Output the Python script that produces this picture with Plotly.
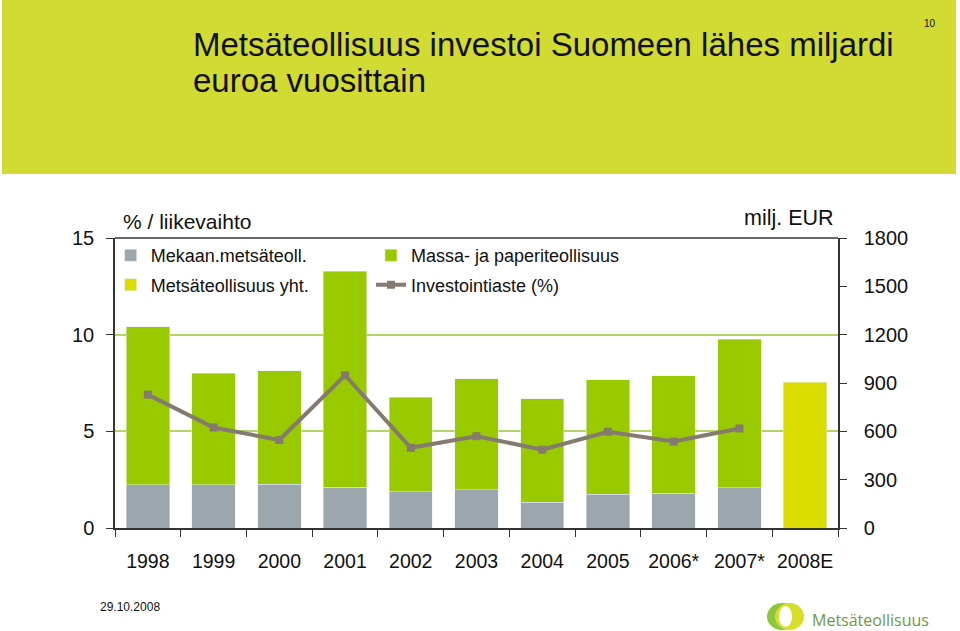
import plotly.graph_objects as go

years = ["1998", "1999", "2000", "2001", "2002", "2003", "2004", "2005", "2006*", "2007*", "2008E"]
mekaan = [267, 267, 273, 253, 225, 236, 161, 209, 215, 250, None]
massa = [983, 695, 702, 1342, 588, 689, 640, 710, 729, 923, None]
yht = [None, None, None, None, None, None, None, None, None, None, 906]
invest_pct = [6.9, 5.2, 4.55, 7.9, 4.15, 4.75, 4.05, 4.98, 4.47, 5.15, None]

FONT = "Liberation Sans, Arial, sans-serif"
GRAY = "#9BA6AD"
GREEN = "#99CA00"
YELLOW = "#DADC00"
LINEC = "#857A70"

L, R, T, B = 115, 838, 238, 528


def px_x(x):
    return (x - L) / float(R - L)


def px_y(y):
    return (B - y) / float(B - T)


fig = go.Figure()
fig.add_trace(go.Bar(x=years, y=mekaan, name="Mekaan.metsäteoll.", marker_color=GRAY,
                     yaxis="y", legend="legend", legendgroup="a"))
fig.add_trace(go.Bar(x=years, y=massa, name="Massa- ja paperiteollisuus", marker_color=GREEN,
                     yaxis="y", legend="legend2", legendgroup="b"))
fig.add_trace(go.Bar(x=years, y=yht, name="Metsäteollisuus yht.", marker_color=YELLOW,
                     yaxis="y", legend="legend", legendgroup="c"))
fig.add_trace(go.Scatter(x=years, y=invest_pct, name="Investointiaste (%)", mode="lines+markers",
                         line=dict(color=LINEC, width=4),
                         marker=dict(symbol="square", size=8, color=LINEC),
                         yaxis="y2", legend="legend2", legendgroup="d"))

axis_font = dict(family=FONT, size=20, color="#111")
leg_font = dict(family=FONT, size=18, color="#111")

fig.update_layout(
    width=960, height=631,
    margin=dict(l=L, r=960 - R, t=T, b=631 - B, autoexpand=False),
    paper_bgcolor="white", plot_bgcolor="white",
    barmode="stack", bargap=0.34,
    font=dict(family=FONT, color="#111"),
    xaxis=dict(type="category", range=[-0.5, 10.5], showline=True, linecolor="#333",
               linewidth=1.5, ticks="outside", tickson="boundaries", ticklen=7,
               tickcolor="#333", tickfont=dict(family=FONT, size=19.5, color="#111"),
               tickangle=0, ticklabelstandoff=15, showgrid=False, automargin=False),
    yaxis=dict(side="right", range=[0, 1800], dtick=300, showgrid=False, zeroline=False,
               showline=True, linecolor="#333", linewidth=1.5, ticks="outside", ticklen=7,
               tickcolor="#333", tickfont=axis_font, ticklabelstandoff=13, automargin=False),
    yaxis2=dict(side="left", overlaying="y", range=[0, 15], tickvals=[0, 5, 10, 15],
                showgrid=True, gridcolor="#B4D468", gridwidth=1.5, zeroline=False,
                showline=True, linecolor="#333", linewidth=1.5, ticks="outside", ticklen=7,
                tickcolor="#333", tickfont=axis_font, ticklabelstandoff=8, automargin=False),
    legend=dict(x=-0.006, y=1.003, xanchor="left", yanchor="top", bgcolor="rgba(0,0,0,0)",
                font=leg_font, tracegroupgap=3, traceorder="grouped"),
    legend2=dict(x=0.354, y=1.003, xanchor="left", yanchor="top", bgcolor="rgba(0,0,0,0)",
                 font=leg_font, tracegroupgap=3, traceorder="grouped"),
    shapes=[
        dict(type="rect", xref="paper", yref="paper", x0=px_x(2), x1=px_x(956),
             y0=px_y(174), y1=px_y(0),
             fillcolor="#D2DA34", line=dict(width=0), layer="below"),
        dict(type="line", xref="paper", yref="paper", x0=0, x1=1, y0=1, y1=1,
             line=dict(color="#333", width=1.5)),
    ],
    annotations=[
        dict(text="Metsäteollisuus investoi Suomeen lähes miljardi",
             xref="paper", yref="paper", x=px_x(191), y=px_y(44), xanchor="left",
             yanchor="middle", showarrow=False, font=dict(family=FONT, size=33, color="#111")),
        dict(text="euroa vuosittain",
             xref="paper", yref="paper", x=px_x(191), y=px_y(80), xanchor="left",
             yanchor="middle", showarrow=False, font=dict(family=FONT, size=33, color="#111")),
        dict(text="10", xref="paper", yref="paper", x=px_x(930), y=px_y(23), xanchor="center",
             yanchor="middle", showarrow=False, font=dict(family=FONT, size=10, color="#111")),
        dict(text="% / liikevaihto", xref="paper", yref="paper", x=px_x(121), y=px_y(221),
             xanchor="left", yanchor="middle", showarrow=False,
             font=dict(family=FONT, size=21, color="#111")),
        dict(text="milj. EUR", xref="paper", yref="paper", x=px_x(836), y=px_y(218),
             xanchor="right", yanchor="middle", showarrow=False,
             font=dict(family=FONT, size=21.5, color="#111")),
        dict(text="29.10.2008", xref="paper", yref="paper", x=px_x(98), y=px_y(607),
             xanchor="left", yanchor="middle", showarrow=False,
             font=dict(family=FONT, size=12, color="#111")),
        dict(text="Metsäteollisuus", xref="paper", yref="paper", x=px_x(810), y=px_y(620),
             xanchor="left", yanchor="middle", showarrow=False,
             font=dict(family="Open Sans, sans-serif", size=16, color="#6E9A3C")),
    ],
)

logo = [
    ("#8CC63F", 767, 797, 603, 630),
    ("#D7DE2A", 775, 804, 603, 630),
    ("white", 779, 792, 606, 627),
]
for col, x0, x1, y0, y1 in logo:
    fig.add_shape(type="circle", xref="paper", yref="paper",
                  x0=px_x(x0), x1=px_x(x1), y0=px_y(y1), y1=px_y(y0),
                  fillcolor=col, line=dict(width=0))

fig.write_html("out.html")
